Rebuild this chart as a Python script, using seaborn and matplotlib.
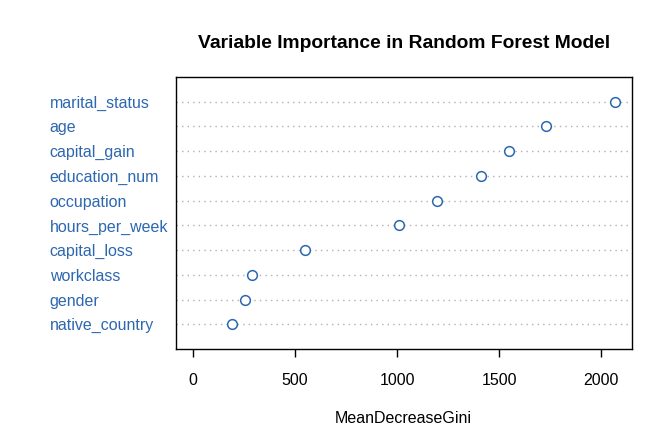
import pandas as pd
import matplotlib
matplotlib.use("Agg")
import matplotlib.pyplot as plt
import seaborn as sns

# Variable importance values (MeanDecreaseGini)
variables = ["marital_status", "age", "capital_gain", "education_num", "occupation",
             "hours_per_week", "capital_loss", "workclass", "gender", "native_country"]
gini = [2066, 1732, 1551, 1412, 1195, 1008, 547, 289, 253, 193]
x_ticks = [0, 500, 1000, 1500, 2000]

BLUE = "#2d67b0"

sns.set_style("white")
plt.rcParams["font.family"] = ["Liberation Sans", "DejaVu Sans"]
plt.rcParams["text.color"] = "black"
plt.rcParams["axes.labelcolor"] = "black"
plt.rcParams["xtick.color"] = "black"

df = pd.DataFrame({"variable": variables, "gini": gini})

fig = plt.figure(figsize=(6.72, 4.47), dpi=100)
ax = fig.add_axes([176 / 672, 1 - 349 / 447, (631.5 - 176) / 672, (349 - 77) / 447])

# dotted guide lines across the full width
for i in range(len(variables)):
    ax.axhline(i, color="#b0b0b0", linestyle=(0, (1, 3)), linewidth=1, zorder=1)

sns.stripplot(data=df, x="gini", y="variable", order=variables, jitter=False,
              ax=ax, marker="o", size=7, color="white", edgecolor=BLUE,
              linewidth=1.1, zorder=3)

xmax = max(gini)
ax.set_xlim(-0.04 * xmax, 1.04 * xmax)
ax.set_ylim(len(variables), -1)
ax.set_xticks(x_ticks)
ax.set_xticklabels([str(t) for t in x_ticks])
ax.tick_params(axis="x", direction="out", length=6, width=1, pad=11,
               labelsize=11.5, color="black", labelcolor="black", bottom=True)
ax.tick_params(axis="y", length=0, pad=91, labelsize=11.5, labelcolor=BLUE)
for lbl in ax.get_yticklabels():
    lbl.set_horizontalalignment("left")

for side in ["top", "bottom", "left", "right"]:
    ax.spines[side].set_visible(True)
    ax.spines[side].set_color("black")
    ax.spines[side].set_linewidth(1)

ax.set_ylabel("")
ax.set_xlabel("MeanDecreaseGini", fontsize=11.5, labelpad=17, color="black")
ax.set_title("Variable Importance in Random Forest Model", fontsize=13.9,
             fontweight="bold", pad=21, color="black")

fig.savefig("out.png", dpi=100)
